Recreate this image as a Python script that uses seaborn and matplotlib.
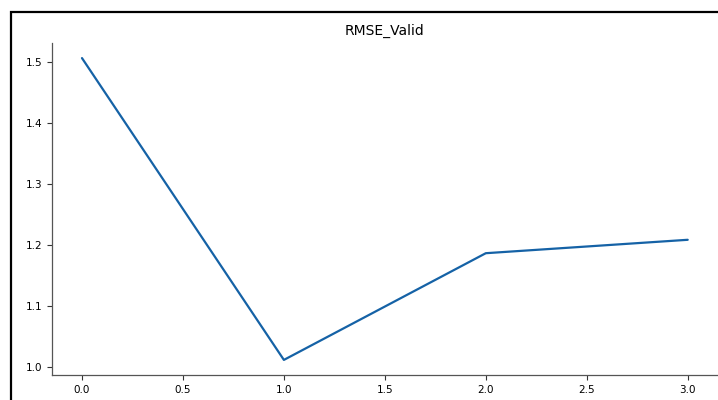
import matplotlib
matplotlib.use("Agg")
import matplotlib.pyplot as plt
import matplotlib.patches as mpatches
import seaborn as sns
import pandas as pd

# Validation RMSE per epoch
epochs = [0, 1, 2, 3]
rmse_valid = [1.507, 1.012, 1.187, 1.209]

sns.set_style("ticks")
plt.rcParams["font.family"] = ["DejaVu Sans"]
plt.rcParams["text.color"] = "black"

fig = plt.figure(figsize=(7.18, 4.0), dpi=100)
ax = fig.add_axes([0.072, 0.0625, 0.928, 0.83])

# frame of the panel, continuing past the right and bottom edges
fig.patches.append(mpatches.Rectangle((11 / 718, -0.1), 1.2, 1.1 - 12 / 400,
                                      transform=fig.transFigure, fill=False,
                                      edgecolor="black", linewidth=1.6, zorder=0))

df = pd.DataFrame({"epoch": epochs, "RMSE_Valid": rmse_valid})
sns.lineplot(data=df, x="epoch", y="RMSE_Valid", ax=ax, color="#1562a6", linewidth=1.6)

ax.set_title("RMSE_Valid", fontsize=10, color="black")
ax.set_xlabel("")
ax.set_ylabel("")
ax.set_xticks([0.0, 0.5, 1.0, 1.5, 2.0, 2.5, 3.0])
ax.set_yticks([1.0, 1.1, 1.2, 1.3, 1.4, 1.5])
ax.tick_params(labelsize=7.5, length=3.5, width=0.8, colors="#333333", labelcolor="black")
for s in ("left", "bottom"):
    ax.spines[s].set_color("#555555")
    ax.spines[s].set_linewidth(0.9)
sns.despine(ax=ax)

fig.savefig("out.png", dpi=100)
